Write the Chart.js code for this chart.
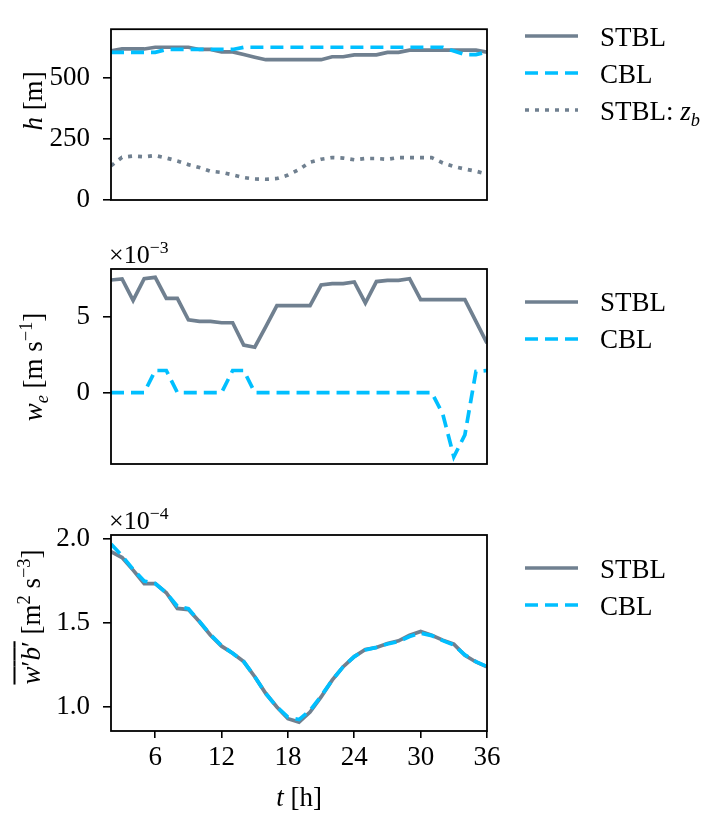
<!DOCTYPE html>
<html>
<head>
<meta charset="utf-8">
<script src="https://cdn.jsdelivr.net/npm/chart.js@4.4.1/dist/chart.umd.min.js"></script>
<style>
  body { margin: 0; background: #fff; }
  #wrap { position: relative; width: 707px; height: 815px; overflow: hidden;
          font-family: 'Liberation Serif', serif; color: #000; }
  canvas { position: absolute; left: 0; top: 0; }
  .lbl { position: absolute; white-space: nowrap; font-size: 27px; line-height: 1; }
  .rot { transform: translate(-50%, -50%) rotate(-90deg); }
  .ctr { transform: translate(-50%, -50%); }
  .leg { transform: translateY(-50%); }
  .mul { font-size: 26px; }
  sup, sub { font-size: 0.68em; line-height: 0; }
  .ov { text-decoration: overline; text-decoration-thickness: 1.5px; }
</style>
</head>
<body>
<div id="wrap">
  <canvas id="c1" width="707" height="815"></canvas>
  <canvas id="c2" width="707" height="815"></canvas>
  <canvas id="c3" width="707" height="815"></canvas>

  <div class="lbl rot" style="left:33px;top:101px"><i>h</i> [m]</div>
  <div class="lbl rot" style="left:33px;top:367px"><i>w</i><sub><i>e</i></sub> [m s<sup>−1</sup>]</div>
  <div class="lbl rot" style="left:31px;top:617px"><span class="ov"><i>w</i>′<i>b</i>′</span> [m<sup>2</sup> s<sup>−3</sup>]</div>

  <div class="lbl mul" style="left:109px;top:242px">×10<sup>−3</sup></div>
  <div class="lbl mul" style="left:109px;top:508px">×10<sup>−4</sup></div>

  <div class="lbl ctr" style="left:299px;top:797px"><i>t</i> [h]</div>

  <div class="lbl leg" style="left:600px;top:37px">STBL</div>
  <div class="lbl leg" style="left:600px;top:74px">CBL</div>
  <div class="lbl leg" style="left:600px;top:111px">STBL: <i>z<sub>b</sub></i></div>

  <div class="lbl leg" style="left:600px;top:302px">STBL</div>
  <div class="lbl leg" style="left:600px;top:339px">CBL</div>

  <div class="lbl leg" style="left:600px;top:569px">STBL</div>
  <div class="lbl leg" style="left:600px;top:606px">CBL</div>
</div>
<script>
// time axis, hours
const hours = [2, 3, 4, 5, 6, 7, 8, 9, 10, 11, 12, 13, 14, 15, 16, 17, 18, 19,
               20, 21, 22, 23, 24, 25, 26, 27, 28, 29, 30, 31, 32, 33, 34, 35, 36];

// top panel: boundary layer height h [m]
const hStbl = [611, 619, 619, 619, 626, 626, 626, 626, 617, 617, 607, 607, 596, 585, 575, 575, 575, 575,
               575, 575, 587, 587, 595, 595, 595, 605, 605, 614, 614, 614, 614, 614, 614, 614, 606];
const hCbl  = [605, 605, 605, 605, 605, 617, 617, 617, 617, 617, 617, 617, 626, 626, 626, 626, 626, 626,
               626, 626, 626, 626, 626, 626, 626, 626, 626, 626, 626, 626, 626, 611, 596, 596, 607];
const zbStbl = [140, 175, 180, 177, 182, 172, 160, 145, 133, 118, 113, 103, 92, 86, 85, 88, 102, 125,
                155, 167, 174, 172, 165, 170, 170, 167, 174, 174, 174, 174, 152, 137, 127, 118, 106];

// middle panel: entrainment velocity w_e (x 1e-3 m/s)
const weStbl = [7.45, 7.52, 6.10, 7.54, 7.63, 6.24, 6.24, 4.82, 4.71, 4.71, 4.62, 4.62, 3.14, 3.00, 4.37, 5.75, 5.75, 5.75,
                5.75, 7.12, 7.21, 7.21, 7.32, 5.93, 7.35, 7.43, 7.43, 7.54, 6.15, 6.15, 6.15, 6.15, 6.15, 4.71, 3.27];
const weCbl  = [0, 0, 0, 0, 1.46, 1.46, 0, 0, 0, 0, 0, 1.46, 1.46, 0, 0, 0, 0, 0,
                0, 0, 0, 0, 0, 0, 0, 0, 0, 0, 0, 0, -1.42, -4.25, -2.80, 1.40, 1.46];

// bottom panel: surface buoyancy flux (x 1e-4 m2/s3)
const bStbl = [1.925, 1.89, 1.815, 1.735, 1.735, 1.68, 1.587, 1.58, 1.507, 1.427, 1.362, 1.32, 1.27, 1.18, 1.08, 1.00, 0.93, 0.91,
               0.97, 1.06, 1.16, 1.24, 1.30, 1.342, 1.354, 1.378, 1.394, 1.427, 1.45, 1.427, 1.398, 1.374, 1.308, 1.268, 1.24];
const bCbl  = [1.97, 1.90, 1.82, 1.75, 1.735, 1.68, 1.60, 1.585, 1.51, 1.43, 1.365, 1.32, 1.27, 1.18, 1.08, 1.00, 0.94, 0.925,
               0.98, 1.065, 1.16, 1.24, 1.30, 1.34, 1.355, 1.375, 1.39, 1.42, 1.44, 1.425, 1.395, 1.37, 1.31, 1.27, 1.24];

const xTicks = [6, 12, 18, 24, 30, 36];
const hTicks = [0, 250, 500];
const weTicks = [0, 5];
const bTicks = [1.0, 1.5, 2.0];

const SLATE = '#708090';
const SKY = '#00bfff';
const FONT = { family: "'Liberation Serif', serif", size: 27 };
const DASH = [13, 7];
const DOT = [4, 6];

function pts(arr) {
  return hours.map((t, i) => ({ x: t, y: arr[i] }));
}

// black box round the plot area
const framePlugin = {
  id: 'frame',
  afterDatasetsDraw(chart) {
    const a = chart.chartArea, c = chart.ctx;
    c.save();
    c.strokeStyle = '#000';
    c.lineWidth = 1.8;
    c.strokeRect(a.left, a.top, a.right - a.left, a.bottom - a.top);
    c.restore();
  }
};

// legend line samples, texts are html
const legendLines = {
  id: 'legendLines',
  afterDraw(chart, args, opts) {
    const c = chart.ctx;
    chart.data.datasets.forEach((ds, i) => {
      const y = opts.y0 + i * opts.dy;
      c.save();
      c.strokeStyle = ds.borderColor;
      c.lineWidth = ds.borderWidth;
      c.setLineDash(ds.borderDash || []);
      c.beginPath();
      c.moveTo(525, y);
      c.lineTo(578, y);
      c.stroke();
      c.restore();
    });
  }
};

function line(label, data, color, dash, order) {
  return {
    label: label,
    data: pts(data),
    borderColor: color,
    borderWidth: 3.7,
    borderDash: dash,
    borderCapStyle: 'butt',
    pointRadius: 0,
    tension: 0,
    fill: false,
    order: order
  };
}

function makeChart(id, datasets, yMin, yMax, yTicks, fmt, top, bottom, showX, legendY) {
  const xh = showX ? 50 : 0;
  new Chart(document.getElementById(id), {
    type: 'line',
    data: { datasets: datasets },
    plugins: [framePlugin, legendLines],
    options: {
      responsive: false,
      animation: false,
      events: [],
      layout: { padding: { left: 0, right: 220, top: top, bottom: 815 - bottom - xh } },
      plugins: {
        legend: { display: false },
        tooltip: { enabled: false },
        legendLines: { y0: legendY, dy: 37 }
      },
      scales: {
        x: {
          type: 'linear', min: 2, max: 36,
          display: showX,
          afterBuildTicks: s => { s.ticks = xTicks.map(v => ({ value: v })); },
          afterFit: s => { s.height = xh; },
          grid: { drawOnChartArea: false, drawTicks: true, tickLength: 7, color: '#000', lineWidth: 1.6 },
          border: { display: false },
          ticks: { font: FONT, color: '#000', padding: 4, maxRotation: 0 }
        },
        y: {
          type: 'linear', min: yMin, max: yMax,
          afterBuildTicks: s => { s.ticks = yTicks.map(v => ({ value: v })); },
          afterFit: s => { s.width = 111; },
          grid: { drawOnChartArea: false, drawTicks: true, tickLength: 8, color: '#000', lineWidth: 1.6 },
          border: { display: false },
          ticks: { font: FONT, color: '#000', padding: 13, callback: fmt }
        }
      }
    }
  });
}

makeChart('c1', [
  line('STBL', hStbl, SLATE, [], 2),
  line('CBL', hCbl, SKY, DASH, 1),
  line('STBL: z_b', zbStbl, SLATE, DOT, 0)
], 0, 700, hTicks, v => String(v), 3, 200, false, 36);

makeChart('c2', [
  line('STBL', weStbl, SLATE, [], 1),
  line('CBL', weCbl, SKY, DASH, 0)
], -4.73, 8.18, weTicks, v => String(v), 269, 464, false, 302);

makeChart('c3', [
  line('STBL', bStbl, SLATE, [], 1),
  line('CBL', bCbl, SKY, DASH, 0)
], 0.857, 2.024, bTicks, v => v.toFixed(1), 535, 731, true, 568);
</script>
</body>
</html>
